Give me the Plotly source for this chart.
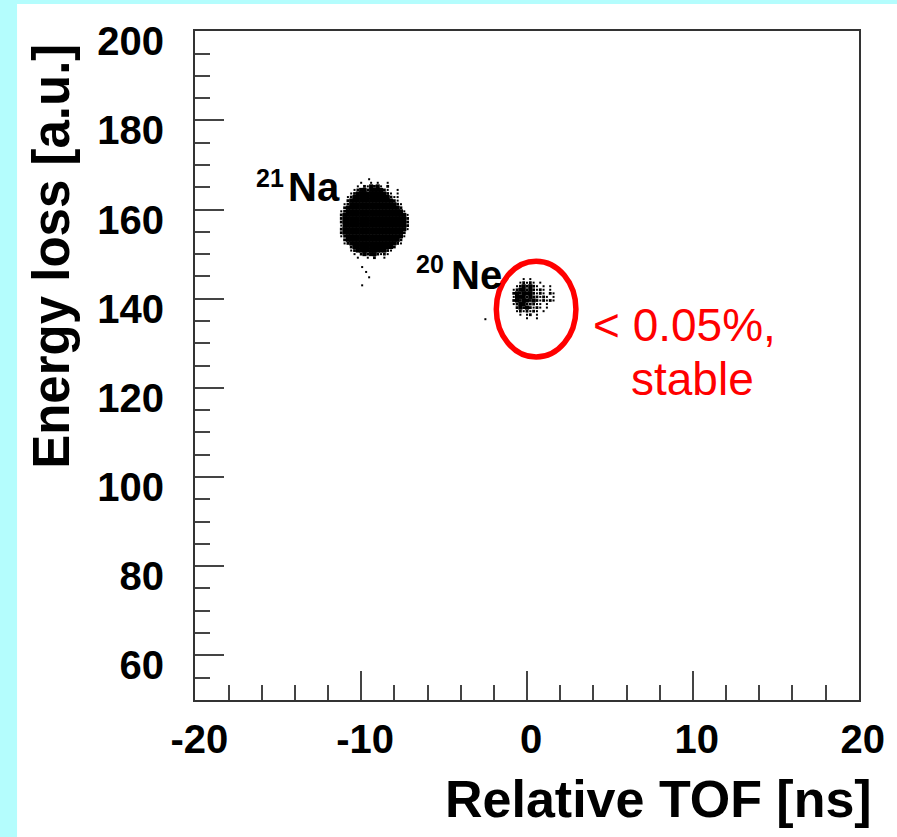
import plotly.graph_objects as go

# ---------------- data ----------------
# 21Na cluster: occupancy map
# '#' dense, ':' medium, '.' single speckle
na_x = [-11.2, -11.0, -10.8, -10.6, -10.4, -10.2, -10.0, -9.8, -9.6, -9.4, -9.2,
        -9.0, -8.8, -8.6, -8.4, -8.2, -8.0, -7.8, -7.6, -7.4, -7.2]
na_y = [166.0, 165.2, 164.4, 163.6, 162.8, 162.0, 161.2, 160.4, 159.6, 158.8, 158.0,
        157.2, 156.4, 155.6, 154.8, 154.0, 153.2, 152.4, 151.6, 150.8, 150.0, 149.2]
na_map = [
    "      .  . .  .      ",
    "     . :.#:#. :      ",
    "    .:##:####:.  .   ",
    "   .:#########:. .   ",
    "  .:###########:..   ",
    "  :#############:.   ",
    " .:##############:.  ",
    " :################:  ",
    ".:#################. ",
    ":###################.",
    ":###################:",
    ":###################:",
    ".###################:",
    ":###################.",
    ":##################: ",
    ".:#################. ",
    " :################:  ",
    " .:##############:.  ",
    "   :############:    ",
    "   .:#########:.     ",
    "    . :#:##:.:.      ",
    "     .  . :  .       ",
]

# 20Ne cluster
ne_x = [-1.0, -0.8, -0.6, -0.4, -0.2, 0.0, 0.2, 0.4, 0.6, 0.8, 1.0, 1.2, 1.4, 1.6, 1.8]
ne_y = [144.4, 143.6, 142.8, 142.0, 141.2, 140.4, 139.6, 138.8, 138.0, 137.2, 136.4, 135.6]
ne_map = [
    "    . .        ",
    "   .:.:. .     ",
    "  .:#:#:. . .  ",
    " .:##:#:.:. .  ",
    " :#:###:.:. :. ",
    " .###:#::.:. . ",
    " :#:##:#:.:.:. ",
    " .:##:::.. .   ",
    "  :#:#:.:. .   ",
    "  .:.:.:. .    ",
    "   . .: .      ",
    "     .  .      ",
]

# isolated events
stray_x = [-9.52, -9.94, -9.70, -9.52, -9.94, -2.51, -1.80]
stray_y = [166.8, 147.1, 146.0, 144.8, 143.0, 135.4, 136.5]

x_ticks = [-20, -10, 0, 10, 20]
x_labels = ["-20", "-10", "0", "10", "20"]
y_ticks = [60, 80, 100, 120, 140, 160, 180, 200]


def parse(xs, ys, rows):
    out = {"#": ([], []), ":": ([], []), ".": ([], [])}
    for j, row in enumerate(rows):
        for i, ch in enumerate(row):
            if ch in out:
                out[ch][0].append(xs[i])
                out[ch][1].append(ys[j])
    return out


na = parse(na_x, na_y, na_map)
ne = parse(ne_x, ne_y, ne_map)

fig = go.Figure()
sizes = {"#": 4.1, ":": 2.8, ".": 2.0}
for key in ["#", ":", "."]:
    xs = na[key][0] + ne[key][0]
    ys = na[key][1] + ne[key][1]
    if key == ".":
        xs = xs + stray_x
        ys = ys + stray_y
    fig.add_trace(go.Scatter(
        x=xs, y=ys, mode="markers",
        marker=dict(symbol="square", size=sizes[key], color="black",
                    line=dict(width=0)),
        showlegend=False, hoverinfo="skip"))

bold = dict(family="Liberation Sans, Arial, sans-serif", color="black", weight="bold")

axis_common = dict(
    showline=True, mirror=True, linecolor="#333333", linewidth=2,
    ticks="inside", ticklen=29, tickwidth=2, tickcolor="#444444",
    showgrid=False, zeroline=False,
    tickfont=dict(size=40, **bold),
)

fig.update_xaxes(range=[-20.02, 20.02], tickvals=x_ticks, ticktext=x_labels,
                 ticklabelstandoff=3, ticklabelshift=4,
                 minor=dict(dtick=2, tick0=0, ticks="inside", ticklen=15,
                            tickwidth=2, tickcolor="#444444", showgrid=False),
                 **axis_common)
fig.update_yaxes(range=[49.98, 200.05], tickvals=y_ticks, ticklabelstandoff=21,
                 ticklabelshift=10,
                 minor=dict(dtick=5, tick0=0, ticks="inside", ticklen=15,
                            tickwidth=2, tickcolor="#444444", showgrid=False),
                 **axis_common)

annotations = [
    dict(text="21", x=-15.5, y=167.0, xref="x", yref="y", showarrow=False,
         font=dict(size=25, **bold), xanchor="center", yanchor="middle"),
    dict(text="Na", x=-12.87, y=165.0, xref="x", yref="y", showarrow=False,
         font=dict(size=40, **bold), xanchor="center", yanchor="middle"),
    dict(text="20", x=-5.87, y=147.7, xref="x", yref="y", showarrow=False,
         font=dict(size=25, **bold), xanchor="center", yanchor="middle"),
    dict(text="Ne", x=-3.05, y=145.3, xref="x", yref="y", showarrow=False,
         font=dict(size=40, **bold), xanchor="center", yanchor="middle"),
    dict(text="&lt; 0.05%,", x=9.5, y=134.0, xref="x", yref="y", showarrow=False,
         font=dict(size=46, family="Liberation Sans, Arial, sans-serif", color="#ff0000"),
         xanchor="center", yanchor="middle"),
    dict(text="stable", x=9.95, y=122.0, xref="x", yref="y", showarrow=False,
         font=dict(size=46, family="Liberation Sans, Arial, sans-serif", color="#ff0000"),
         xanchor="center", yanchor="middle"),
    dict(text="Relative TOF [ns]", x=1.0225, y=-0.148, xref="paper", yref="paper",
         showarrow=False, font=dict(size=52, **bold), xanchor="right", yanchor="middle"),
    dict(text="Energy loss [a.u.]", x=-0.2156, y=0.6637, xref="paper", yref="paper",
         showarrow=False, textangle=-90, font=dict(size=51, **bold),
         xanchor="center", yanchor="middle"),
]

shapes = [
    # red circle around the 20Ne group
    dict(type="circle", xref="x", yref="y", x0=-1.85, x1=2.95, y0=126.9, y1=148.4,
         line=dict(color="#ff0000", width=5.5), fillcolor="rgba(0,0,0,0)"),
    # cyan slide border (left and top)
    dict(type="rect", xref="paper", yref="paper", x0=-0.30, x1=-0.268, y0=-0.21, y1=1.05,
         line=dict(width=0), fillcolor="#b4fdfd", layer="below"),
    dict(type="rect", xref="paper", yref="paper", x0=-0.30, x1=1.06, y0=1.0404, y1=1.05,
         line=dict(width=0), fillcolor="#b4fdfd", layer="below"),
]

fig.update_layout(
    width=897, height=837,
    margin=dict(l=195, r=33, t=31, b=137),
    paper_bgcolor="white", plot_bgcolor="white",
    annotations=annotations, shapes=shapes,
    showlegend=False,
)

fig.write_html("out.html")
